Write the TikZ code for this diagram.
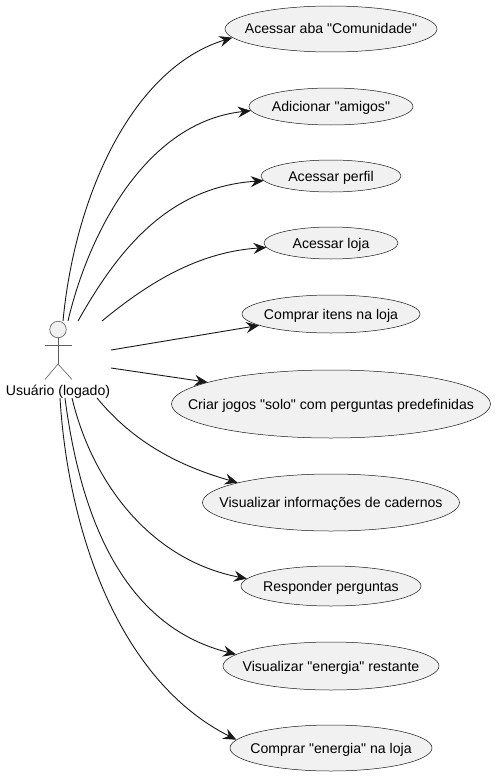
\documentclass[tikz,border=0pt]{standalone}
\usepackage{fontspec}
\setmainfont{Liberation Sans}[Ligatures=TeXOff]
\usetikzlibrary{shapes.geometric,arrows.meta}
\definecolor{ink}{HTML}{181818}
\definecolor{fillc}{HTML}{F1F1F1}
\tikzset{
  uc/.style 2 args={ellipse,draw=ink,fill=fillc,line width=0.5pt,inner sep=0pt,minimum width=#1pt,minimum height=#2pt,font=\fontsize{14.1}{16}\selectfont,text=black},
  arr/.style={draw=ink,line width=0.9pt,-{Stealth[length=13pt,width=11pt,inset=4.5pt]}},
  actorline/.style={draw=ink!70,line width=0.6pt},
  actorlabel/.style={font=\fontsize{14.1}{16}\selectfont,text=black,inner sep=0pt},
}
\newcommand{\zw}[1]{\makebox[0pt]{\raisebox{-5pt}[0pt][0pt]{#1}}}
\begin{document}
\begin{tikzpicture}[x=1pt,y=-1pt]
\useasboundingbox (0,0) rectangle (495,776);
\node[uc={212}{46}] (u1) at (331,29) {\zw{Acessar aba "Comunidade"}};
\node[uc={164}{37}] (u2) at (331,106.5) {\zw{Adicionar "amigos"}};
\node[uc={140}{32}] (u3) at (331,176) {\zw{Acessar perfil}};
\node[uc={134}{32}] (u4) at (331,243) {\zw{Acessar loja}};
\node[uc={178}{38}] (u5) at (331,314) {\zw{Comprar itens na loja}};
\node[uc={319}{68}] (u6) at (331,404) {\zw{Criar jogos "solo" com perguntas predefinidas}};
\node[uc={257}{57}] (u7) at (331,502.5) {\zw{Visualizar informações de cadernos}};
\node[uc={180}{40}] (u8) at (331,586) {\zw{Responder perguntas}};
\node[uc={216}{48}] (u9) at (331,666) {\zw{Visualizar "energia" restante}};
\node[uc={202}{46}] (u10) at (331,748) {\zw{Comprar "energia" na loja}};
% actor
\node[circle,draw=ink!70,fill=fillc,line width=0.6pt,inner sep=0pt,minimum size=16.5pt] (head) at (58,329.5) {};
\coordinate (hip) at (58,364);
\coordinate (armL) at (45,345);
\coordinate (armR) at (72,345);
\coordinate (legL) at (45,379.5);
\coordinate (legR) at (72,379.5);
\draw[actorline] (head.south) -- (hip);
\draw[actorline] (armL) -- (armR);
\draw[actorline] (legL) -- (hip) -- (legR);
\node[actorlabel] (lab) at (58,392) {Usuário (logado)};
% free ends at the actor
\coordinate (s1) at (63,321);
\coordinate (s2) at (68,321);
\coordinate (s3) at (78,321);
\coordinate (s4) at (102,321);
\coordinate (s5) at (111,350);
\coordinate (s6) at (111,368);
\coordinate (s7) at (97,398);
\coordinate (s8) at (72,398);
\coordinate (s9) at (65,398);
\coordinate (s10) at (60,398);
\draw[arr] (s1) .. controls (75,194) and (133,68) .. (u1.185.4);
\draw[arr] (s2) .. controls (88,235) and (145,122) .. (u2.183.2);
\draw[arr] (s3) .. controls (118,250) and (168,187) .. (u3.184.2);
\draw[arr] (s4) .. controls (148,283) and (198,252) .. (u4.184.7);
\draw[arr] (s5) -- (u5.189.6);
\draw[arr] (s6) -- (u6.170.5);
\draw[arr] (s7) .. controls (130,438) and (172,464) .. (u7.168.7);
\draw[arr] (s8) .. controls (92,482) and (150,560) .. (u8.175.2);
\draw[arr] (s9) .. controls (82,530) and (130,628) .. (u9.173.1);
\draw[arr] (s10) .. controls (68,530) and (118,680) .. (u10.175.7);
\end{tikzpicture}
\end{document}
